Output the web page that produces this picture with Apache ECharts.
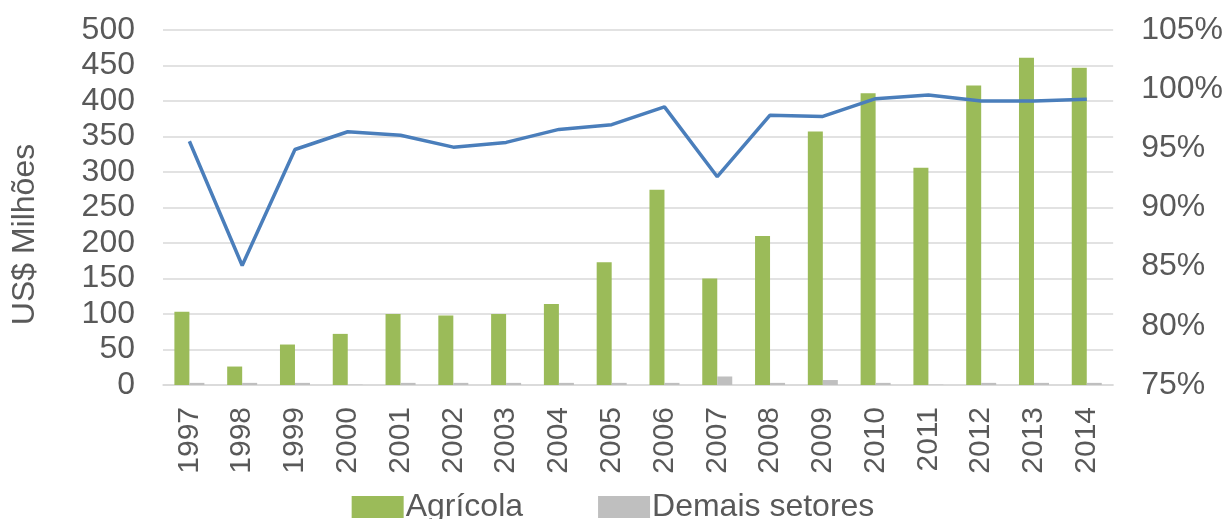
<!DOCTYPE html>
<html>
<head>
<meta charset="utf-8">
<script src="https://cdn.jsdelivr.net/npm/echarts@6/dist/echarts.min.js"></script>
<style>
  html, body { margin: 0; padding: 0; background: #fff; }
  #main { width: 1226px; height: 519px; }
</style>
</head>
<body>
<div id="main"></div>
<script>
var years = ['1997','1998','1999','2000','2001','2002','2003','2004','2005',
  '2006','2007','2008','2009','2010','2011','2012','2013','2014'];
var agricola = [103, 26, 57, 72, 100, 98, 100, 114, 173, 275, 150, 210, 357, 411, 306, 422, 461, 447];
var demais = [3, 3, 3, 0.5, 3, 3, 3, 3, 3, 3, 12, 3, 7, 3, 0.5, 3, 3, 3];
var share = [95.6, 85.1, 94.9, 96.4, 96.1, 95.1, 95.5, 96.6, 97.0, 98.5, 92.6, 97.8, 97.7, 99.2, 99.5, 99.0, 99.0, 99.15];

var txt = '#595959';
var font = 'Liberation Sans, Arial, sans-serif';
var chart = echarts.init(document.getElementById('main'));
chart.setOption({
  animation: false,
  textStyle: { fontFamily: font },
  grid: { left: 163, right: 109, top: 30, bottom: 134 },
  legend: {
    data: ['Agrícola', 'Demais setores'],
    top: 486,
    left: 'center',
    itemWidth: 52,
    itemHeight: 22,
    itemGap: 75,
    icon: 'rect',
    textStyle: { color: txt, fontSize: 32, fontFamily: font, padding: [0, 0, 0, -3] }
  },
  xAxis: {
    type: 'category',
    data: years,
    axisLine: { lineStyle: { color: '#d9d9d9', width: 1.5 } },
    axisTick: { show: false },
    axisLabel: { rotate: 90, color: txt, fontSize: 30, margin: 22 }
  },
  yAxis: [{
    type: 'value',
    min: 0, max: 500, interval: 50,
    name: 'US$ Milhões',
    nameLocation: 'middle',
    nameGap: 122,
    nameRotate: 90,
    nameTextStyle: { color: txt, fontSize: 32, padding: [0, 54, 0, 0] },
    axisLabel: { color: txt, fontSize: 32, margin: 28 },
    axisLine: { show: false },
    axisTick: { show: false },
    splitLine: { lineStyle: { color: '#d9d9d9', width: 1.5 } }
  }, {
    type: 'value',
    min: 75, max: 105, interval: 5,
    axisLabel: { color: txt, fontSize: 32, margin: 28, formatter: '{value}%' },
    axisLine: { show: false },
    axisTick: { show: false },
    splitLine: { show: false }
  }],
  series: [{
    name: 'Agrícola',
    type: 'bar',
    data: agricola,
    barWidth: 15,
    barGap: '0%',
    itemStyle: { color: '#9bbb59' }
  }, {
    name: 'Demais setores',
    type: 'bar',
    data: demais,
    barWidth: 15,
    itemStyle: { color: '#bfbfbf' }
  }, {
    name: 'Share',
    type: 'line',
    yAxisIndex: 1,
    data: share,
    symbol: 'none',
    lineStyle: { color: '#4a7ebb', width: 3.5 },
    itemStyle: { color: '#4a7ebb' }
  }]
});
</script>
</body>
</html>
